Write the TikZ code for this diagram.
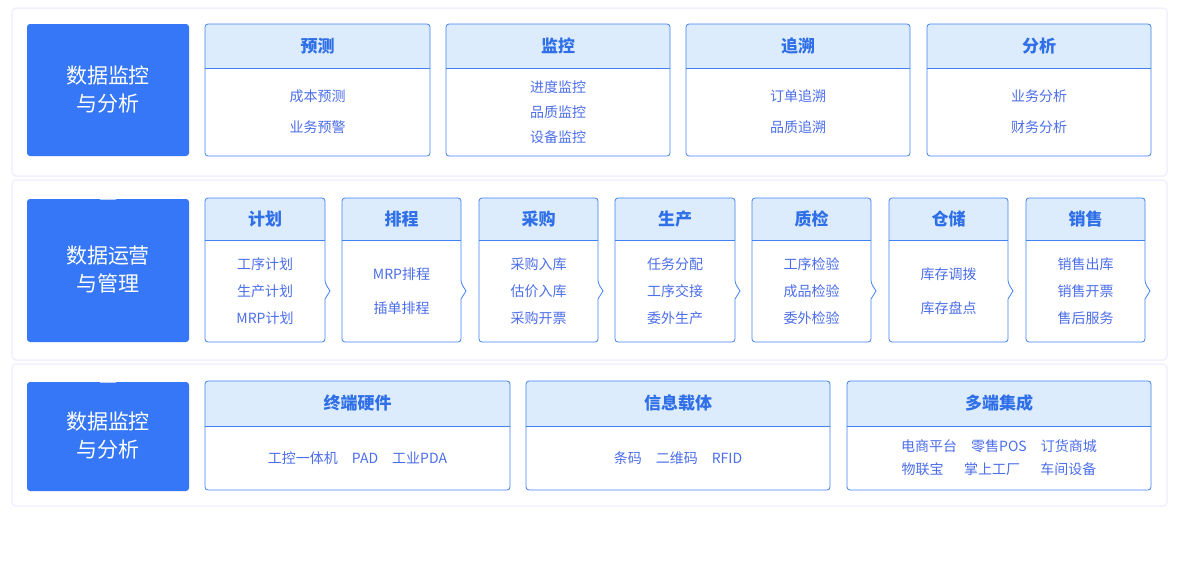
\documentclass[tikz,border=0pt]{standalone}
\usepackage{fontspec}
\setmainfont{Noto Sans CJK SC}
\begin{document}
\begin{tikzpicture}[x=1pt,y=-1pt,
  panel/.style={draw=blue!6,fill=white,rounded corners=4pt,line width=1.5pt},
  lbox/.style={fill=lb,rounded corners=3pt},
  ltext/.style={text=white,font=\fontsize{21}{28}\selectfont,align=center},
  htext/.style={text=tb,font=\fontsize{17}{20}\selectfont\bfseries},
  itext/.style={text=ti,font=\fontsize{14}{26}\selectfont,align=center},
  bd/.style={draw=bc,line width=0.8pt}]
\definecolor{lb}{HTML}{3577F6}
\definecolor{bc}{HTML}{4182F5}
\definecolor{hf}{HTML}{DCECFC}
\definecolor{tb}{HTML}{2F6FE8}
\definecolor{ti}{HTML}{4C6EEA}
\useasboundingbox (0,0) rectangle (1179,562);
\fill[white] (0,0) rectangle (1179,562);
\draw[panel] (12,8) rectangle (1167,176);
\draw[panel] (12,180) rectangle (1167,360);
\draw[panel] (12,364) rectangle (1167,506);
% left boxes
\fill[lbox] (27,24) rectangle (189,156);
\node[ltext] (l1) at (108,90) {数据监控\\与分析};
\fill[lbox] (27,199) rectangle (189,342);
\fill[white] (100,199.5) -- (108,193) -- (116,199.5) -- cycle;
\node[ltext] (l2) at (108,270) {数据运营\\与管理};
\fill[lbox] (27,382) rectangle (189,491);
\fill[white] (100,382.5) -- (108,376) -- (116,382.5) -- cycle;
\node[ltext] (l3) at (108,436) {数据监控\\与分析};
% card macro: name x1 y1 x2 y2 header-bottom title items chevron(0/1)
\newcommand\mycard[9]{%
  \fill[hf,rounded corners=3pt] (#2,#3) rectangle (#4,#6+3);
  \fill[white] (#2+0.5,#6) rectangle (#4-0.5,#5-3);
  \ifnum#9=1
    \draw[bd,rounded corners=3pt] (#2,#3) -- (#4,#3) -- ({#4},{(#6+#5)/2-8}) [sharp corners]-- ({#4+5},{(#6+#5)/2}) -- ({#4},{(#6+#5)/2+8}) [rounded corners=3pt]-- (#4,#5) -- (#2,#5) -- cycle;
  \else
    \draw[bd,rounded corners=3pt] (#2,#3) rectangle (#4,#5);
  \fi
  \draw[bd] (#2,#6) -- (#4,#6);
  \node[htext] (#1h) at ({(#2+#4)/2},{(#3+#6)/2}) {#7};
  \node[itext] (#1b) at ({(#2+#4)/2},{(#6+#5)/2}) {#8};
}
\mycard{a}{205}{24}{430}{156}{68}{预测}{成本预测\\[5pt]业务预警}{0}
\mycard{b}{446}{24}{670}{156}{68}{监控}{进度监控\\[-1pt]品质监控\\[-1pt]设备监控}{0}
\mycard{c}{686}{24}{910}{156}{68}{追溯}{订单追溯\\[5pt]品质追溯}{0}
\mycard{d}{927}{24}{1151}{156}{68}{分析}{业务分析\\[5pt]财务分析}{0}
\mycard{e}{205}{198}{325}{342}{240}{计划}{工序计划\\[1pt]生产计划\\[1pt]MRP计划}{1}
\mycard{f}{342}{198}{461}{342}{240}{排程}{MRP排程\\[8pt]插单排程}{1}
\mycard{g}{479}{198}{598}{342}{240}{采购}{采购入库\\[1pt]估价入库\\[1pt]采购开票}{1}
\mycard{h}{615}{198}{735}{342}{240}{生产}{任务分配\\[1pt]工序交接\\[1pt]委外生产}{1}
\mycard{i}{752}{198}{871}{342}{240}{质检}{工序检验\\[1pt]成品检验\\[1pt]委外检验}{1}
\mycard{j}{889}{198}{1008}{342}{240}{仓储}{库存调拨\\[8pt]库存盘点}{1}
\mycard{k}{1026}{198}{1145}{342}{240}{销售}{销售出库\\[1pt]销售开票\\[1pt]售后服务}{1}
\mycard{m}{205}{381}{510}{490}{426}{终端硬件}{工控一体机\quad PAD\quad 工业PDA}{0}
\mycard{n}{526}{381}{830}{490}{426}{信息载体}{条码\quad 二维码\quad RFID}{0}
\mycard{o}{847}{381}{1151}{490}{426}{多端集成}{电商平台\quad 零售POS\quad 订货商城\\[-3pt]物联宝\quad\ \ 掌上工厂\quad\ \ 车间设备}{0}
\end{tikzpicture}
\end{document}
